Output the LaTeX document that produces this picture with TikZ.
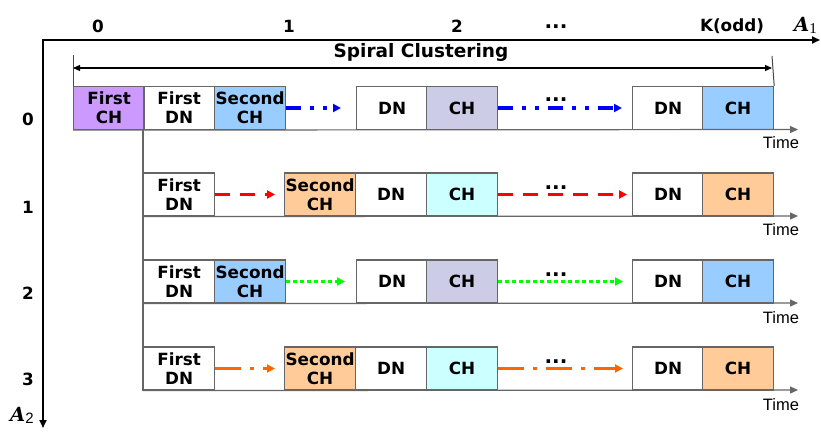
\documentclass[tikz,border=0pt]{standalone}
\usepackage{fontspec}
\setmainfont{DejaVu Sans}
\newfontfamily\timefont{Liberation Sans}
\newfontfamily\axisfont{Liberation Serif}
\newfontfamily\axisbi{DejaVu Serif}
\usetikzlibrary{arrows.meta}

\definecolor{chpurple}{HTML}{CC99FF}
\definecolor{chblue}{HTML}{99CCFF}
\definecolor{chlav}{HTML}{CCCCE6}
\definecolor{chorange}{HTML}{FFCC99}
\definecolor{chcyan}{HTML}{CCFFFF}
\definecolor{boxgray}{HTML}{666666}
\definecolor{arrblue}{HTML}{0000FF}
\definecolor{arrred}{HTML}{FF0000}
\definecolor{arrgreen}{HTML}{00FF00}
\definecolor{arrorange}{HTML}{FF6600}

\begin{document}
\begin{tikzpicture}[x=1pt,y=-1pt,
  box/.style={draw=boxgray, line width=1.2pt, minimum width=71pt, minimum height=43pt,
    inner sep=0pt, align=center, anchor=west,
    font=\bfseries\fontsize{16.8}{19}\selectfont},
  lbl/.style={inner sep=0pt, font=\bfseries\fontsize{16.8}{19}\selectfont},
  dotslbl/.style={inner sep=0pt, anchor=base, font=\bfseries\fontsize{20}{20}\selectfont},
  timelbl/.style={inner sep=0pt, font=\timefont\fontsize{16.5}{19}\selectfont},
  axis/.style={line width=2pt, black},
  timeaxis/.style={draw=boxgray, line width=1.2pt, -{Triangle[length=8pt,width=7pt]}},
  flow/.style={line width=3.5pt, -{Triangle[length=8pt,width=8pt]}},
  bluedash/.style={flow, arrblue, dash pattern=on 15pt off 9pt on 4pt off 9pt on 4pt off 9pt},
  reddash/.style={flow, arrred, dash pattern=on 15pt off 10pt},
  greendot/.style={flow, line width=3pt, arrgreen, dash pattern=on 4pt off 3pt},
  orangedash/.style={flow, arrorange, dash pattern=on 26pt off 9pt on 4pt off 9pt},
]
\useasboundingbox (0,0) rectangle (821,431);

% axes A1 (horizontal) and A2 (vertical)
\coordinate (origin) at (43,40);
\coordinate (a1end) at (820,40);
\coordinate (a2end) at (43,428);
\draw[axis, {Triangle[length=8pt,width=7pt]}-{Triangle[length=8pt,width=7pt]}]
  (a1end) -- (origin) -- (a2end);

\node[lbl] (c0) at (98,26) {0};
\node[lbl] (c1) at (289,26) {1};
\node[lbl] (c2) at (457,26) {2};
\node[dotslbl] (cdots) at (556,28) {...};
\node[lbl] (ck) at (732,26) {K(odd)};
\node[inner sep=0pt, anchor=base west] (a1) at (794,31)
  {\axisbi\fontsize{19.5}{20}\selectfont\bfseries\itshape A\normalfont\axisfont\fontsize{15}{15}\selectfont\raisebox{-0.3ex}{1}};

\node[lbl] (r0l) at (28,119) {0};
\node[lbl] (r1l) at (28,207) {1};
\node[lbl] (r2l) at (28,293) {2};
\node[lbl] (r3l) at (28,379) {3};
\node[inner sep=0pt, anchor=base west] (a2) at (10,421)
  {\axisbi\fontsize{19.5}{20}\selectfont\bfseries\itshape A\normalfont\timefont\fontsize{15}{15}\selectfont\raisebox{-0.3ex}{2}};

% row 0
\node[box, fill=chpurple] (r0a) at (73,108) {First\\CH};
\node[box] (r0b) at (143,108) {First\\DN};
\node[box, fill=chblue] (r0c) at (214,108) {Second\\CH};
\node[box] (r0d) at (356,108) {DN};
\node[box, fill=chlav] (r0e) at (426,108) {CH};
\node[box] (r0f) at (632,108) {DN};
\node[box, fill=chblue] (r0g) at (702,108) {CH};

% row 1
\node[box] (r1a) at (143,194.5) {First\\DN};
\node[box, fill=chorange] (r1b) at (284,194.5) {Second\\CH};
\node[box] (r1c) at (355,194.5) {DN};
\node[box, fill=chcyan] (r1d) at (426,194.5) {CH};
\node[box] (r1e) at (632,194.5) {DN};
\node[box, fill=chorange] (r1f) at (702,194.5) {CH};

% row 2
\node[box] (r2a) at (143,281.5) {First\\DN};
\node[box, fill=chblue] (r2b) at (214,281.5) {Second\\CH};
\node[box] (r2c) at (356,281.5) {DN};
\node[box, fill=chlav] (r2d) at (426,281.5) {CH};
\node[box] (r2e) at (632,281.5) {DN};
\node[box, fill=chblue] (r2f) at (702,281.5) {CH};

% row 3
\node[box] (r3a) at (143,368.5) {First\\DN};
\node[box, fill=chorange] (r3b) at (284,368.5) {Second\\CH};
\node[box] (r3c) at (355,368.5) {DN};
\node[box, fill=chcyan] (r3d) at (426,368.5) {CH};
\node[box] (r3e) at (632,368.5) {DN};
\node[box, fill=chorange] (r3f) at (702,368.5) {CH};

% time axes
\coordinate (t0) at (798,129.5);
\coordinate (t1) at (798,216);
\coordinate (t2) at (798,303);
\coordinate (t3) at (798,390);
\draw[timeaxis] (r0a.south west) -- (t0);
\draw[timeaxis] (r1a.south west) -- (t1);
\draw[timeaxis] (r2a.south west) -- (t2);
\draw[timeaxis] (r3a.south west) -- (t3);
\draw[draw=boxgray, line width=1.2pt] (r0b.south west) -- (r3a.south west);
\node[timelbl] (time0) at (781,143) {Time};
\node[timelbl] (time1) at (781,230) {Time};
\node[timelbl] (time2) at (781,318) {Time};
\node[timelbl] (time3) at (781,405) {Time};

% spiral clustering span
\coordinate (sl) at (73,55);
\coordinate (sr) at (772,56);
\coordinate (spl) at (73,68);
\coordinate (spr) at (772,68);
\draw[line width=1pt, boxgray!70!black] (sl) -- (r0a.north west);
\draw[line width=1pt, boxgray!70!black] (sr) -- (r0g.north east);
\draw[line width=1.2pt, {Triangle[length=7pt,width=6pt]}-{Triangle[length=7pt,width=6pt]}] (spl) -- (spr);
\node[inner sep=0pt, font=\bfseries\fontsize{18.5}{20}\selectfont] (spiral) at (421,52) {Spiral Clustering};

% flows between slots
\draw[bluedash, shorten >=15pt] (r0c.east) -- (r0d.west);
\draw[bluedash, shorten >=10pt] (r0e.east) -- (r0f.west);
\draw[reddash, shorten >=9pt] (r1a.east) -- (r1b.west);
\draw[reddash, shorten >=5pt] (r1d.east) -- (r1e.west);
\draw[greendot, shorten >=11pt] (r2b.east) -- (r2c.west);
\draw[greendot, shorten >=9pt] (r2d.east) -- (r2e.west);
\draw[orangedash, shorten >=9pt] (r3a.east) -- (r3b.west);
\draw[orangedash, shorten >=9pt] (r3d.east) -- (r3e.west);

\node[dotslbl] (d0) at (556,101) {...};
\node[dotslbl] (d1) at (556,189) {...};
\node[dotslbl] (d2) at (556,276) {...};
\node[dotslbl] (d3) at (556,363) {...};
\end{tikzpicture}
\end{document}
